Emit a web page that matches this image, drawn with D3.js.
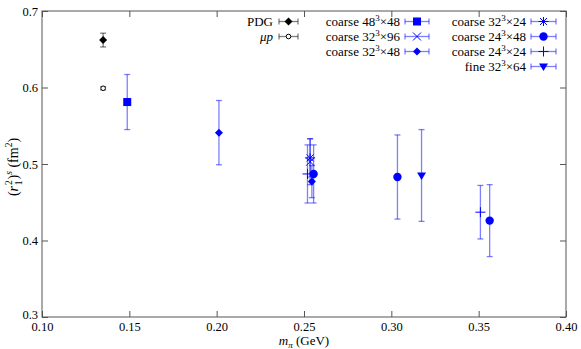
<!DOCTYPE html>
<html>
<head>
<meta charset="utf-8">
<script src="https://cdn.jsdelivr.net/npm/d3@7"></script>
<style>
  body { margin: 0; background: #fff; }
  svg text { font-family: "Liberation Serif", "DejaVu Serif", serif; fill: #000; }
</style>
</head>
<body>
<div id="chart"></div>
<script>
// x = m_pi (GeV), y = (r1^2)^s (fm^2), e = error
var pdg     = [{x: 0.1350, y: 0.662, e: 0.009}];
var muP     = [{x: 0.1350, y: 0.599, e: 0.002}];
var c48x48  = [{x: 0.1488, y: 0.581, e: 0.036}];
var c32x96  = [{x: 0.2535, y: 0.503, e: 0.030}];
var c32x48  = [{x: 0.2013, y: 0.541, e: 0.042}, {x: 0.2545, y: 0.477, e: 0.021}];
var c32x24  = [{x: 0.2535, y: 0.508, e: 0.025}];
var c24x48  = [{x: 0.2555, y: 0.487, e: 0.038}, {x: 0.3035, y: 0.483, e: 0.055}, {x: 0.3563, y: 0.426, e: 0.047}];
var c24x24  = [{x: 0.2520, y: 0.487, e: 0.038}, {x: 0.3510, y: 0.437, e: 0.035}];
var fine    = [{x: 0.3173, y: 0.485, e: 0.060}];

var xTicks = [0.10, 0.15, 0.20, 0.25, 0.30, 0.35, 0.40];
var yTicks = [0.3, 0.4, 0.5, 0.6, 0.7];

var series = [
  {data: pdg,    label: "PDG",        col: 0, row: 0, shape: "diamond", black: true},
  {data: muP,    label: "mup",        col: 0, row: 1, shape: "opencircle", black: true},
  {data: c48x48, label: ["48", "48"], col: 1, row: 0, shape: "square"},
  {data: c32x96, label: ["32", "96"], col: 1, row: 1, shape: "x"},
  {data: c32x48, label: ["32", "48"], col: 1, row: 2, shape: "diamond"},
  {data: c32x24, label: ["32", "24"], col: 2, row: 0, shape: "star"},
  {data: c24x48, label: ["24", "48"], col: 2, row: 1, shape: "circle"},
  {data: c24x24, label: ["24", "24"], col: 2, row: 2, shape: "plus"},
  {data: fine,   label: ["32", "64"], col: 2, row: 3, shape: "triangle", fine: true}
];

var W = 581, H = 349;
var margin = {top: 11, right: 15, bottom: 32, left: 42};

var svg = d3.select("#chart").append("svg")
  .attr("width", W).attr("height", H);

var x = d3.scaleLinear().domain([0.10, 0.40]).range([margin.left, W - margin.right]);
var y = d3.scaleLinear().domain([0.3, 0.7]).range([H - margin.bottom, margin.top]);

var frameCol = "#555";

// ticks (inward, mirrored)
function tickAxis(axis, pos) {
  var g = svg.append("g").attr("transform", pos).call(axis);
  g.select(".domain").remove();
  g.selectAll(".tick line").attr("stroke", frameCol);
  return g;
}
var gx = tickAxis(d3.axisBottom(x).tickValues(xTicks).tickSize(-6).tickFormat(d3.format(".2f")),
  "translate(0," + (H - margin.bottom) + ")");
gx.selectAll("text").attr("y", 4).attr("dy", "0.8em").style("font-size", "12.5px");
tickAxis(d3.axisTop(x).tickValues(xTicks).tickSize(-6).tickFormat(""),
  "translate(0," + margin.top + ")");
var gy = tickAxis(d3.axisLeft(y).tickValues(yTicks).tickSize(-6).tickFormat(d3.format(".1f")),
  "translate(" + margin.left + ",0)");
gy.selectAll("text").attr("x", -4).style("font-size", "12.5px")
  .attr("y", function(d) { return d === 0.3 ? -3 : 0; });
tickAxis(d3.axisRight(y).tickValues(yTicks).tickSize(-6).tickFormat(""),
  "translate(" + (W - margin.right) + ",0)");
svg.selectAll(".tick text").attr("fill", "#000").style("font-family", "Liberation Serif, serif");

svg.append("rect")
  .attr("x", margin.left).attr("y", margin.top)
  .attr("width", W - margin.left - margin.right)
  .attr("height", H - margin.top - margin.bottom)
  .attr("fill", "none").attr("stroke", frameCol).attr("stroke-width", 1);

// axis labels
var xl = svg.append("text")
  .attr("x", (margin.left + W - margin.right) / 2).attr("y", H - 4)
  .attr("text-anchor", "middle").style("font-size", "13px");
xl.append("tspan").attr("font-style", "italic").text("m");
xl.append("tspan").attr("font-style", "italic").attr("dy", 3).style("font-size", "9px").text("π");
xl.append("tspan").attr("dy", -3).text("  (GeV)");

var yl = svg.append("text")
  .attr("transform", "translate(18," + ((margin.top + H - margin.bottom) / 2 + 3) + ") rotate(-90)")
  .attr("text-anchor", "middle").style("font-size", "14px");
yl.append("tspan").text("(");
yl.append("tspan").attr("font-style", "italic").text("r");
yl.append("tspan").attr("dx", 1).attr("dy", -6).style("font-size", "9.5px").text("2");
yl.append("tspan").attr("dx", -5).attr("dy", 10).style("font-size", "9.5px").text("1");
yl.append("tspan").attr("dx", 1).attr("dy", -4).text(")");
yl.append("tspan").attr("dy", -6).attr("font-style", "italic").style("font-size", "9.5px").text("s");
yl.append("tspan").attr("dy", 6).text("  (fm");
yl.append("tspan").attr("dy", -6).style("font-size", "9.5px").text("2");
yl.append("tspan").attr("dy", 6).text(")");

function colors(s) {
  return s.black ? {mark: "#000", err: "rgba(0,0,0,0.5)"} : {mark: "#0000ff", err: "rgba(0,0,255,0.5)"};
}

function drawMarker(g, shape, cx, cy, c) {
  if (shape === "square") {
    g.append("rect").attr("x", cx - 4).attr("y", cy - 4).attr("width", 8).attr("height", 8).attr("fill", c);
  } else if (shape === "circle") {
    g.append("circle").attr("cx", cx).attr("cy", cy).attr("r", 4.2).attr("fill", c);
  } else if (shape === "opencircle") {
    g.append("circle").attr("cx", cx).attr("cy", cy).attr("r", 2.3).attr("fill", "#fff").attr("stroke", c).attr("stroke-width", 1);
  } else if (shape === "diamond") {
    g.append("path").attr("d", "M" + cx + "," + (cy - 4) + "L" + (cx + 4) + "," + cy + "L" + cx + "," + (cy + 4) + "L" + (cx - 4) + "," + cy + "Z").attr("fill", c);
  } else if (shape === "triangle") {
    g.append("path").attr("d", "M" + (cx - 4.5) + "," + (cy - 3) + "L" + (cx + 4.5) + "," + (cy - 3) + "L" + cx + "," + (cy + 4.5) + "Z").attr("fill", c);
  } else if (shape === "x") {
    g.append("path").attr("d", "M" + (cx - 4) + "," + (cy - 4) + "L" + (cx + 4) + "," + (cy + 4) + "M" + (cx - 4) + "," + (cy + 4) + "L" + (cx + 4) + "," + (cy - 4)).attr("stroke", c).attr("stroke-width", 1);
  } else if (shape === "plus") {
    g.append("path").attr("d", "M" + (cx - 5) + "," + cy + "L" + (cx + 5) + "," + cy + "M" + cx + "," + (cy - 5) + "L" + cx + "," + (cy + 5)).attr("stroke", c).attr("stroke-width", 1);
  } else if (shape === "star") {
    g.append("path").attr("d", "M" + (cx - 5) + "," + cy + "L" + (cx + 5) + "," + cy + "M" + (cx - 3.5) + "," + (cy - 3.5) + "L" + (cx + 3.5) + "," + (cy + 3.5) + "M" + (cx - 3.5) + "," + (cy + 3.5) + "L" + (cx + 3.5) + "," + (cy - 3.5) + "M" + cx + "," + (cy - 4.5) + "L" + cx + "," + (cy + 4.5)).attr("stroke", c).attr("stroke-width", 1);
  }
}

// data
var plot = svg.append("g");
series.forEach(function(s) {
  var c = colors(s);
  s.data.forEach(function(d) {
    var cx = x(d.x), y0 = y(d.y - d.e), y1 = y(d.y + d.e);
    var g = plot.append("g");
    g.append("line").attr("x1", cx).attr("x2", cx).attr("y1", y0).attr("y2", y1)
      .attr("stroke", c.err).attr("stroke-width", 1.3);
    [y0, y1].forEach(function(yy) {
      g.append("line").attr("x1", cx - 3).attr("x2", cx + 3).attr("y1", yy).attr("y2", yy)
        .attr("stroke", c.err).attr("stroke-width", 1.3);
    });
    drawMarker(g, s.shape, cx, y(d.y), c.mark);
  });
});

// legend
var colText = [273, 400, 526];
var colSample = [[279, 298], [405, 429], [531, 556]];
var rowY = [21.5, 36.5, 51.5, 66.5];
var lg = svg.append("g");
series.forEach(function(s) {
  var c = colors(s);
  var ty = rowY[s.row];
  var t = lg.append("text").attr("x", colText[s.col]).attr("y", ty + 4.5)
    .attr("text-anchor", "end").style("font-size", "13px");
  if (s.label === "PDG") {
    t.text("PDG");
  } else if (s.label === "mup") {
    t.append("tspan").attr("font-style", "italic").text("μp");
  } else {
    t.append("tspan").text((s.fine ? "fine " : "coarse ") + s.label[0]);
    t.append("tspan").attr("dy", -5).style("font-size", "9px").text("3");
    t.append("tspan").attr("dy", 5).text("×" + s.label[1]);
  }
  var a = colSample[s.col][0], b = colSample[s.col][1];
  lg.append("line").attr("x1", a).attr("x2", b).attr("y1", ty).attr("y2", ty)
    .attr("stroke", c.err).attr("stroke-width", 1.3);
  [a, b].forEach(function(xx) {
    lg.append("line").attr("x1", xx).attr("x2", xx).attr("y1", ty - 3).attr("y2", ty + 3)
      .attr("stroke", c.err).attr("stroke-width", 1.3);
  });
  drawMarker(lg, s.shape, (a + b) / 2, ty, c.mark);
});
</script>
</body>
</html>
